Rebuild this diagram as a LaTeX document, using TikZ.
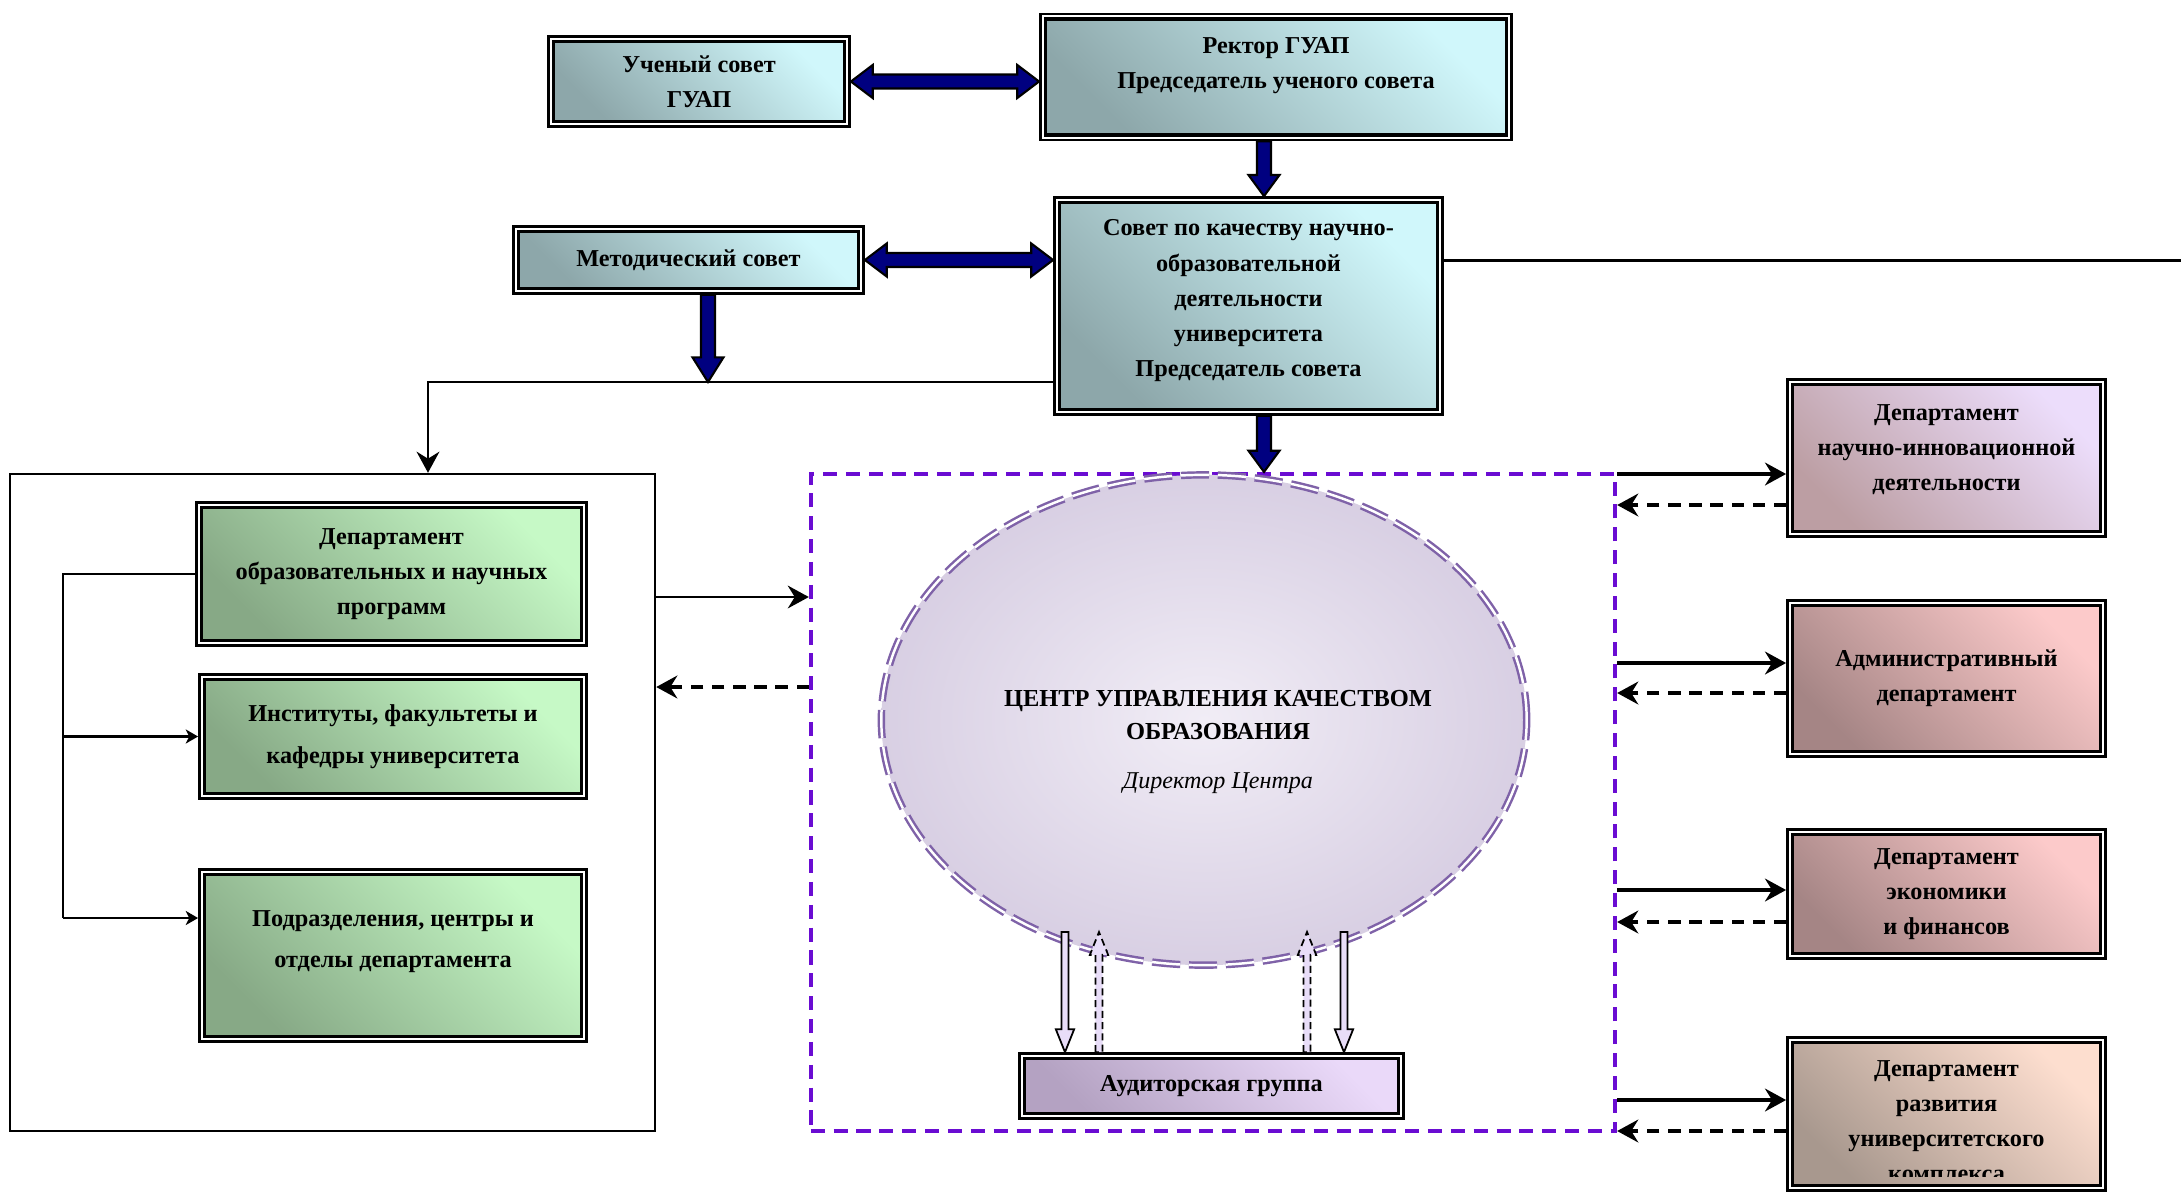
\documentclass[tikz,border=0pt]{standalone}
\usepackage{fontspec}
\setmainfont{Liberation Serif}
\usetikzlibrary{arrows.meta,calc,shapes.geometric}

\definecolor{cyanlight}{HTML}{D0F7FB}
\definecolor{cyandark}{HTML}{8DA7AA}
\definecolor{greenlight}{HTML}{C6F9C6}
\definecolor{greendark}{HTML}{87A986}
\definecolor{mauvelight}{HTML}{ECDDFB}
\definecolor{mauvedark}{HTML}{BC9EA3}
\definecolor{pinklight}{HTML}{FCCACA}
\definecolor{pinkdark}{HTML}{A58585}
\definecolor{peachlight}{HTML}{FDDECF}
\definecolor{peachdark}{HTML}{A8988E}
\definecolor{auditlight}{HTML}{EAD9F9}
\definecolor{auditdark}{HTML}{B4A2C2}
\definecolor{ellinner}{HTML}{F1EDF6}
\definecolor{ellouter}{HTML}{D8CFE3}
\definecolor{ellborder}{HTML}{7F62A8}
\definecolor{framepurple}{HTML}{6A0CD2}
\definecolor{navyfill}{HTML}{000080}
\definecolor{hollowfill}{HTML}{E8DDF8}

\tikzset{
  boxfont/.style={font=\fontsize{6.9}{10}\selectfont\bfseries},
  orgbox/.style={boxfont, align=center, draw=black, line width=1pt,
    inner sep=2pt, outer sep=1.8pt,
    preaction={draw=black, line width=3.6pt},
    preaction={draw=white, line width=2.1pt}},
  cyanbox/.style={orgbox, top color=cyanlight, bottom color=cyandark, shading angle=-45},
  greenbox/.style={orgbox, top color=greenlight, bottom color=greendark, shading angle=-45},
  mauvebox/.style={orgbox, top color=mauvelight, bottom color=mauvedark, shading angle=-45},
  pinkbox/.style={orgbox, top color=pinklight, bottom color=pinkdark, shading angle=-45},
  peachbox/.style={orgbox, top color=peachlight, bottom color=peachdark, shading angle=-45},
  auditbox/.style={orgbox, top color=auditlight, bottom color=auditdark, shading angle=-45},
  navyblk/.style={fill=navyfill, draw=black, line width=0.6pt, line join=miter},
  hollowblk/.style={fill=hollowfill, draw=black, line width=0.5pt},
  hollowdash/.style={hollowblk, dash pattern=on 2pt off 1.2pt},
  thinline/.style={draw=black, line width=0.6pt},
  thinarr/.style={thinline, -{Stealth[length=6pt,width=6.5pt,inset=2pt]}},
  brancharr/.style={draw=black, line width=0.8pt, -{Stealth[length=3.5pt,width=4pt,inset=1pt]}},
  linkarr/.style={draw=black, line width=0.9pt, -{Stealth[length=6pt,width=6.5pt,inset=2pt]}},
  backarr/.style={linkarr, dash pattern=on 3.5pt off 2.5pt}
}

% block arrow: style, from, to, half shaft, half head, head length
\newcommand{\blkarrow}[6]{%
  \path #2 coordinate (bas) #3 coordinate (bat);
  \path ($(bat)!#6!(bas)$) coordinate (bab);
  \filldraw[#1]
    ($(bas)!#4!90:(bat)$) -- ($(bab)!#4!90:(bat)$) -- ($(bab)!#5!90:(bat)$)
    -- (bat) -- ($(bab)!#5!-90:(bat)$) -- ($(bab)!#4!-90:(bat)$)
    -- ($(bas)!#4!-90:(bat)$) -- cycle;
}

% block arrow with a head at each end
\newcommand{\dblblkarrow}[6]{%
  \path #2 coordinate (bas) #3 coordinate (bat);
  \path ($(bat)!#6!(bas)$) coordinate (bab) ($(bas)!#6!(bat)$) coordinate (baa);
  \filldraw[#1]
    (bas) -- ($(baa)!#5!90:(bat)$) -- ($(baa)!#4!90:(bat)$)
    -- ($(bab)!#4!90:(bat)$) -- ($(bab)!#5!90:(bat)$) -- (bat)
    -- ($(bab)!#5!-90:(bat)$) -- ($(bab)!#4!-90:(bat)$)
    -- ($(baa)!#4!-90:(bat)$) -- ($(baa)!#5!-90:(bat)$) -- cycle;
}

\begin{document}
\begin{tikzpicture}[x=0.01cm,y=-0.01cm]

\useasboundingbox (0,0) rectangle (2181,1193);

% Frames round the two groups
\node[draw=black, line width=0.6pt, minimum width=6.45cm,
  minimum height=6.57cm, inner sep=0]
  (leftframe) at (332.5,802.5) {};

\node[draw=framepurple, line width=1.1pt, dash pattern=on 4pt off 2.5pt,
  minimum width=8.04cm, minimum height=6.57cm, inner sep=0]
  (qframe) at (1213,802.5) {};

% Top of the structure
\node[cyanbox, minimum width=2.91cm, minimum height=0.80cm]
  (uch) at (699,81.5) {Ученый совет\\ГУАП};

\node[cyanbox, minimum width=4.61cm, minimum height=1.16cm]
  (rector) at (1276,77) {Ректор ГУАП\\Председатель ученого совета\\[-1.8pt]\mbox{}};

\node[cyanbox, minimum width=3.78cm, minimum height=2.07cm]
  (sovet) at (1248.5,306)
  {Совет по качеству научно-\\образовательной\\деятельности\\университета\\Председатель совета\\[-5.6pt]\mbox{}};

\node[cyanbox, minimum width=3.40cm, minimum height=0.57cm]
  (metod) at (688.5,260) {Методический совет};

% Left group
\node[greenbox, minimum width=3.80cm, minimum height=1.33cm]
  (g1) at (391.5,574) {Департамент\\образовательных и научных\\программ};

\node[greenbox, minimum width=3.77cm, minimum height=1.14cm,
  font=\fontsize{6.9}{11.9}\selectfont\bfseries]
  (g2) at (393,736.5) {Институты, факультеты и\\кафедры университета};

\node[greenbox, minimum width=3.77cm, minimum height=1.62cm,
  font=\fontsize{6.9}{11.9}\selectfont\bfseries]
  (g3) at (393,955.5) {Подразделения, центры и\\отделы департамента\\[-2.5pt]\mbox{}};

% Quality centre
\node[ellipse, draw=ellborder, double=white, double distance=0.7pt,
  line width=0.7pt, dash pattern=on 8pt off 2.5pt,
  inner color=ellinner, outer color=ellouter,
  minimum width=6.45cm, minimum height=4.9cm, inner sep=0]
  (centre) at (1204,720) {};

\node[font=\fontsize{6.95}{9.6}\selectfont\bfseries, align=center]
  (centretitle) at (1218,715) {ЦЕНТР УПРАВЛЕНИЯ КАЧЕСТВОМ\\ОБРАЗОВАНИЯ};

\node[font=\fontsize{6.85}{9}\selectfont\itshape]
  (centredir) at (1218,783) {Директор Центра};

\node[auditbox, minimum width=3.74cm, minimum height=0.55cm]
  (audit) at (1211.5,1086) {Аудиторская группа};

% Right group
\node[mauvebox, minimum width=3.08cm, minimum height=1.47cm]
  (r1) at (1946.5,458) {Департамент\\научно-инновационной\\деятельности\\[-4pt]\mbox{}};

\node[pinkbox, minimum width=3.08cm, minimum height=1.46cm]
  (r2) at (1946.5,678.5) {Административный\\департамент};

\node[pinkbox, minimum width=3.08cm, minimum height=1.19cm]
  (r3) at (1946.5,894) {Департамент\\экономики\\и финансов};

\node[peachbox, minimum width=3.08cm, minimum height=1.43cm]
  (r4) at (1946.5,1114) {};

\begin{scope}
  \clip (1786,1036) rectangle (2107,1176);
  \node[boxfont, align=center]
    (r4text) at (1946.5,1121) {Департамент\\развития\\университетского\\комплекса};
\end{scope}

% Free ends
\coordinate (lcorner) at (428,382);
\coordinate (rightend) at (2181,260);
\coordinate (hd1) at (1065,932);
\coordinate (hu1) at (1099,932);
\coordinate (hu2) at (1307,932);
\coordinate (hd2) at (1344,932);

% Navy block arrows
\dblblkarrow{navyblk}{(uch.east)}{(rector.west |- uch.east)}{2pt}{4.7pt}{6.2pt}
\dblblkarrow{navyblk}{(metod.east)}{(sovet.west |- metod.east)}{2pt}{4.7pt}{6.2pt}
\blkarrow{navyblk}{(rector.south -| 1264,0)}{(sovet.north -| 1264,0)}{2pt}{4.4pt}{6pt}
\blkarrow{navyblk}{(sovet.south -| 1264,0)}{(qframe.north -| 1264,0)}{2pt}{4.4pt}{6pt}
\blkarrow{navyblk}{(metod.south -| 708,0)}{(lcorner -| 708,0)}{2pt}{4.4pt}{7pt}

% Plain lines from the council
\draw[thinarr]
  (sovet.west |- lcorner) -- (lcorner) -- (lcorner |- leftframe.north);

\draw[line width=0.85pt]
  (sovet.east |- metod.east) -- (rightend);

% Branches inside the left group
\draw[thinline]
  (g1.west) -| (63,918);

\draw[brancharr]
  (g2.west -| 63,0) -- (g2.west);

\draw[brancharr]
  (63,918) -- (g3.west |- 0,918);

% Left group and centre
\draw[thinarr]
  (leftframe.east |- 0,597) -- (qframe.west |- 0,597);

\draw[backarr]
  (qframe.west |- 0,687) -- (leftframe.east |- 0,687);

% Centre and audit group
\blkarrow{hollowblk}{(hd1)}{(audit.north -| hd1)}{1pt}{2.6pt}{6.5pt}
\blkarrow{hollowdash}{(audit.north -| hu1)}{(hu1)}{1pt}{2.6pt}{6.5pt}
\blkarrow{hollowdash}{(audit.north -| hu2)}{(hu2)}{1pt}{2.6pt}{6.5pt}
\blkarrow{hollowblk}{(hd2)}{(audit.north -| hd2)}{1pt}{2.6pt}{6.5pt}

% Centre and right group
\draw[linkarr] (qframe.east |- 0,474) -- (r1.west |- 0,474);
\draw[backarr] (r1.west |- 0,505) -- (qframe.east |- 0,505);

\draw[linkarr] (qframe.east |- 0,663) -- (r2.west |- 0,663);
\draw[backarr] (r2.west |- 0,693) -- (qframe.east |- 0,693);

\draw[linkarr] (qframe.east |- 0,890) -- (r3.west |- 0,890);
\draw[backarr] (r3.west |- 0,922) -- (qframe.east |- 0,922);

\draw[linkarr] (qframe.east |- 0,1100) -- (r4.west |- 0,1100);
\draw[backarr] (r4.west |- 0,1131) -- (qframe.east |- 0,1131);

\end{tikzpicture}
\end{document}
